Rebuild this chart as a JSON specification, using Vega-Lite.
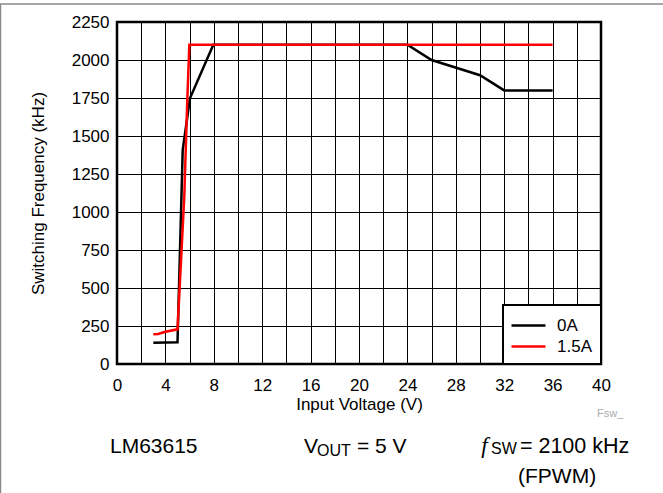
{
  "$schema": "https://vega.github.io/schema/vega-lite/v6.json",
  "width": 484,
  "height": 342,
  "autosize": {"type": "none"},
  "padding": {"left": 117, "top": 22, "right": 62, "bottom": 129},
  "background": "white",
  "config": {
    "font": "Liberation Sans",
    "view": {"stroke": "black", "strokeWidth": 2.5},
    "axis": {
      "labelFont": "Liberation Sans", "titleFont": "Liberation Sans",
      "labelFontSize": 17, "titleFontSize": 17, "titleFontWeight": "normal",
      "labelColor": "black", "titleColor": "black",
      "domain": false, "ticks": false, "tickSize": 0,
      "gridColor": "black", "gridOpacity": 1, "gridWidth": 1,
      "labelOverlap": false, "format": "d"
    },
    "axisX": {"labelPadding": 13, "titlePadding": 3, "labelFlush": false},
    "axisY": {"labelPadding": 8, "titlePadding": 24},
    "legend": {
      "orient": "bottom-right", "offset": 0, "title": null,
      "symbolType": "M-1.2,0H2.2", "symbolStrokeWidth": 2.5, "symbolSize": 400,
      "labelFontSize": 17, "labelFont": "Liberation Sans", "labelColor": "black",
      "strokeColor": "black", "strokeWidth": 2, "fillColor": "white", "padding": 9,
      "labelOffset": 22, "rowPadding": 1
    }
  },
  "data": {"values": [
    {"v": 3, "f": 140, "load": "0A"},
    {"v": 5, "f": 143, "load": "0A"},
    {"v": 5.43, "f": 1408, "load": "0A"},
    {"v": 6.03, "f": 1748, "load": "0A"},
    {"v": 7.96, "f": 2100, "load": "0A"},
    {"v": 24, "f": 2100, "load": "0A"},
    {"v": 26, "f": 2000, "load": "0A"},
    {"v": 30, "f": 1900, "load": "0A"},
    {"v": 32, "f": 1800, "load": "0A"},
    {"v": 36, "f": 1800, "load": "0A"},
    {"v": 3, "f": 195, "load": "1.5A"},
    {"v": 3.4, "f": 197, "load": "1.5A"},
    {"v": 4, "f": 212, "load": "1.5A"},
    {"v": 5, "f": 228, "load": "1.5A"},
    {"v": 5.56, "f": 1100, "load": "1.5A"},
    {"v": 5.81, "f": 1737, "load": "1.5A"},
    {"v": 5.98, "f": 2100, "load": "1.5A"},
    {"v": 36, "f": 2100, "load": "1.5A"}
  ]},
  "layer": [
    {
      "mark": {"type": "line", "strokeWidth": 2.5},
      "encoding": {
        "x": {"field": "v", "type": "quantitative",
          "scale": {"domain": [0, 40], "nice": false, "zero": false},
          "axis": {"values": [0,2,4,6,8,10,12,14,16,18,20,22,24,26,28,30,32,34,36,38,40],
            "labelExpr": "datum.value % 4 === 0 ? datum.label : ''", "title": "Input Voltage (V)"}},
        "y": {"field": "f", "type": "quantitative",
          "scale": {"domain": [0, 2250], "nice": false},
          "axis": {"values": [0,250,500,750,1000,1250,1500,1750,2000,2250], "title": "Switching Frequency (kHz)"}},
        "color": {"field": "load", "type": "nominal",
          "scale": {"domain": ["0A", "1.5A"], "range": ["black", "#ff0000"]}}
      }
    },
    {
      "data": {"values": [{}]},
      "mark": {"type": "text", "text": "LM63615", "font": "Liberation Sans", "fontSize": 21, "align": "left", "baseline": "alphabetic", "color": "black"},
      "encoding": {
        "x": {"datum": -0.58, "type": "quantitative", "axis": {"values": [0,2,4,6,8,10,12,14,16,18,20,22,24,26,28,30,32,34,36,38,40], "labelExpr": "datum.value % 4 === 0 ? datum.label : ''", "title": "Input Voltage (V)"}},
        "y": {"datum": -583, "type": "quantitative", "axis": {"values": [0,250,500,750,1000,1250,1500,1750,2000,2250], "title": "Switching Frequency (kHz)"}}
      }
    },
    {
      "data": {"values": [{}]},
      "mark": {"type": "text", "text": "V", "font": "Liberation Sans", "fontSize": 21, "align": "left", "baseline": "alphabetic", "color": "black"},
      "encoding": {
        "x": {"datum": 15.45, "type": "quantitative", "axis": {"values": [0,2,4,6,8,10,12,14,16,18,20,22,24,26,28,30,32,34,36,38,40], "labelExpr": "datum.value % 4 === 0 ? datum.label : ''", "title": "Input Voltage (V)"}},
        "y": {"datum": -583, "type": "quantitative", "axis": {"values": [0,250,500,750,1000,1250,1500,1750,2000,2250], "title": "Switching Frequency (kHz)"}}
      }
    },
    {
      "data": {"values": [{}]},
      "mark": {"type": "text", "text": "OUT", "font": "Liberation Sans", "fontSize": 16, "align": "left", "baseline": "alphabetic", "color": "black"},
      "encoding": {
        "x": {"datum": 16.53, "type": "quantitative", "axis": {"values": [0,2,4,6,8,10,12,14,16,18,20,22,24,26,28,30,32,34,36,38,40], "labelExpr": "datum.value % 4 === 0 ? datum.label : ''", "title": "Input Voltage (V)"}},
        "y": {"datum": -603, "type": "quantitative", "axis": {"values": [0,250,500,750,1000,1250,1500,1750,2000,2250], "title": "Switching Frequency (kHz)"}}
      }
    },
    {
      "data": {"values": [{}]},
      "mark": {"type": "text", "text": "= 5 V", "font": "Liberation Sans", "fontSize": 21, "align": "left", "baseline": "alphabetic", "color": "black"},
      "encoding": {
        "x": {"datum": 19.83, "type": "quantitative", "axis": {"values": [0,2,4,6,8,10,12,14,16,18,20,22,24,26,28,30,32,34,36,38,40], "labelExpr": "datum.value % 4 === 0 ? datum.label : ''", "title": "Input Voltage (V)"}},
        "y": {"datum": -583, "type": "quantitative", "axis": {"values": [0,250,500,750,1000,1250,1500,1750,2000,2250], "title": "Switching Frequency (kHz)"}}
      }
    },
    {
      "data": {"values": [{}]},
      "mark": {"type": "text", "text": "f", "font": "Liberation Serif", "fontStyle": "italic", "fontSize": 23, "align": "left", "baseline": "alphabetic", "color": "black"},
      "encoding": {
        "x": {"datum": 30.1, "type": "quantitative", "axis": {"values": [0,2,4,6,8,10,12,14,16,18,20,22,24,26,28,30,32,34,36,38,40], "labelExpr": "datum.value % 4 === 0 ? datum.label : ''", "title": "Input Voltage (V)"}},
        "y": {"datum": -583, "type": "quantitative", "axis": {"values": [0,250,500,750,1000,1250,1500,1750,2000,2250], "title": "Switching Frequency (kHz)"}}
      }
    },
    {
      "data": {"values": [{}]},
      "mark": {"type": "text", "text": "SW", "font": "Liberation Sans", "fontSize": 16, "align": "left", "baseline": "alphabetic", "color": "black"},
      "encoding": {
        "x": {"datum": 30.91, "type": "quantitative", "axis": {"values": [0,2,4,6,8,10,12,14,16,18,20,22,24,26,28,30,32,34,36,38,40], "labelExpr": "datum.value % 4 === 0 ? datum.label : ''", "title": "Input Voltage (V)"}},
        "y": {"datum": -594, "type": "quantitative", "axis": {"values": [0,250,500,750,1000,1250,1500,1750,2000,2250], "title": "Switching Frequency (kHz)"}}
      }
    },
    {
      "data": {"values": [{}]},
      "mark": {"type": "text", "text": "= 2100 kHz", "font": "Liberation Sans", "fontSize": 21.5, "align": "left", "baseline": "alphabetic", "color": "black"},
      "encoding": {
        "x": {"datum": 33.3, "type": "quantitative", "axis": {"values": [0,2,4,6,8,10,12,14,16,18,20,22,24,26,28,30,32,34,36,38,40], "labelExpr": "datum.value % 4 === 0 ? datum.label : ''", "title": "Input Voltage (V)"}},
        "y": {"datum": -583, "type": "quantitative", "axis": {"values": [0,250,500,750,1000,1250,1500,1750,2000,2250], "title": "Switching Frequency (kHz)"}}
      }
    },
    {
      "data": {"values": [{}]},
      "mark": {"type": "text", "text": "(FPWM)", "font": "Liberation Sans", "fontSize": 21, "align": "left", "baseline": "alphabetic", "color": "black"},
      "encoding": {
        "x": {"datum": 33.14, "type": "quantitative", "axis": {"values": [0,2,4,6,8,10,12,14,16,18,20,22,24,26,28,30,32,34,36,38,40], "labelExpr": "datum.value % 4 === 0 ? datum.label : ''", "title": "Input Voltage (V)"}},
        "y": {"datum": -785, "type": "quantitative", "axis": {"values": [0,250,500,750,1000,1250,1500,1750,2000,2250], "title": "Switching Frequency (kHz)"}}
      }
    },
    {
      "data": {"values": [{}]},
      "mark": {"type": "text", "text": "Fsw_", "font": "Liberation Sans", "fontSize": 11, "align": "left", "baseline": "alphabetic", "color": "#aaaaaa"},
      "encoding": {
        "x": {"datum": 39.67, "type": "quantitative", "axis": {"values": [0,2,4,6,8,10,12,14,16,18,20,22,24,26,28,30,32,34,36,38,40], "labelExpr": "datum.value % 4 === 0 ? datum.label : ''", "title": "Input Voltage (V)"}},
        "y": {"datum": -347, "type": "quantitative", "axis": {"values": [0,250,500,750,1000,1250,1500,1750,2000,2250], "title": "Switching Frequency (kHz)"}}
      }
    },
    {
      "data": {"values": [{}]},
      "mark": {"type": "rule", "color": "#888888", "strokeWidth": 1.5},
      "encoding": {
        "x": {"datum": -9.67, "type": "quantitative", "axis": {"values": [0,2,4,6,8,10,12,14,16,18,20,22,24,26,28,30,32,34,36,38,40], "labelExpr": "datum.value % 4 === 0 ? datum.label : ''", "title": "Input Voltage (V)"}},
        "x2": {"datum": 45.12},
        "y": {"datum": 2368, "type": "quantitative", "axis": {"values": [0,250,500,750,1000,1250,1500,1750,2000,2250], "title": "Switching Frequency (kHz)"}}
      }
    },
    {
      "data": {"values": [{}]},
      "mark": {"type": "rule", "color": "#888888", "strokeWidth": 1.5},
      "encoding": {
        "x": {"datum": -9.63, "type": "quantitative", "axis": {"values": [0,2,4,6,8,10,12,14,16,18,20,22,24,26,28,30,32,34,36,38,40], "labelExpr": "datum.value % 4 === 0 ? datum.label : ''", "title": "Input Voltage (V)"}},
        "y": {"datum": 2368, "type": "quantitative", "axis": {"values": [0,250,500,750,1000,1250,1500,1750,2000,2250], "title": "Switching Frequency (kHz)"}},
        "y2": {"datum": -849}
      }
    }
  ]
}
